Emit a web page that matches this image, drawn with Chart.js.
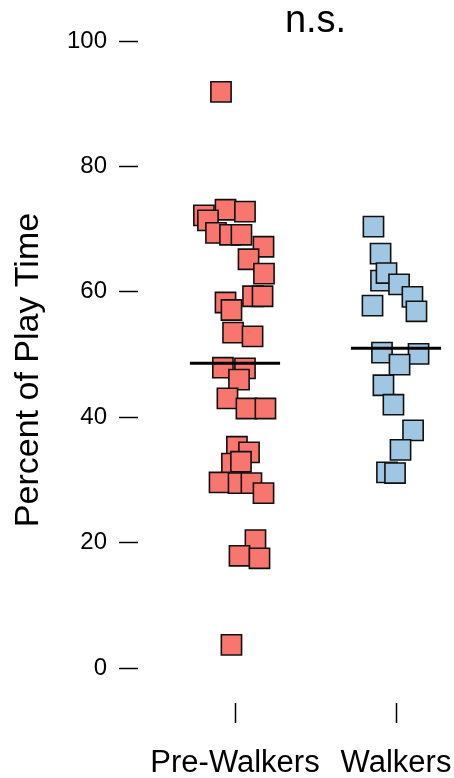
<!DOCTYPE html>
<html>
<head>
<meta charset="utf-8">
<script src="https://cdn.jsdelivr.net/npm/chart.js@4"></script>
<style>
  html, body { margin: 0; padding: 0; background: #fff; overflow: hidden; }
  #wrap { width: 454px; height: 778px; position: relative; }
  canvas { display: block; }
</style>
</head>
<body>
<div id="wrap"><canvas id="chart"></canvas></div>
<script>
// categories and their positions on the x axis
var categories = ['Pre-Walkers', 'Walkers'];
var categoryPos = [1, 2];

// Pre-Walkers: percent of play time and horizontal jitter
var preValues = [91.9, 72.2, 73.1, 72.8, 71.4, 69.4, 69.1, 69.1, 67.2, 65.2,
                 62.9, 59.3, 59.3, 58.3, 57.1, 53.5, 52.9, 47.9, 47.8, 46.0,
                 43.0, 41.4, 41.4, 35.3, 34.4, 32.6, 32.9, 29.6, 29.5, 29.5,
                 27.9, 20.4, 17.9, 17.5, 3.7];
var preJitter = [-0.087, -0.193, -0.059, 0.062, -0.168, -0.118, -0.031, 0.040, 0.177, 0.084,
                 0.180, 0.112, 0.171, -0.059, -0.022, -0.012, 0.109, -0.075, 0.062, 0.025,
                 -0.047, 0.071, 0.189, 0.012, 0.087, -0.019, 0.037, -0.096, 0.022, 0.102,
                 0.177, 0.127, 0.028, 0.152, -0.022];

// Walkers
var walkValues = [70.4, 66.1, 61.8, 63.0, 61.2, 59.2, 57.8, 56.9, 50.3, 50.1,
                  48.4, 45.1, 42.0, 37.9, 34.8, 31.2, 31.1];
var walkJitter = [-0.140, -0.096, -0.093, -0.059, 0.019, 0.102, -0.146, 0.127, -0.087, 0.140,
                  0.022, -0.078, -0.016, 0.106, 0.028, -0.056, -0.006];

// group means (horizontal bars)
var means = [48.6, 51.0];
var meanHalfWidth = 0.28;

var yTicks = [0, 20, 40, 60, 80, 100];
var yMin = -5.58, yMax = 104;
var xMin = 0.3975, xMax = 2.3602;
var annotation = 'n.s.';
var yTitle = 'Percent of Play Time';

var FONT = '"Liberation Sans", Arial, Helvetica, sans-serif';

function toPoints(center, jitter, values) {
    return values.map(function (v, i) {
        return { x: center + jitter[i], y: v };
    });
}

function meanLine(center, m) {
    return [{ x: center - meanHalfWidth, y: m }, { x: center + meanHalfWidth, y: m }];
}

// "n.s." above the groups and the rotated y title
var textPlugin = {
    id: 'extraText',
    afterDraw: function (chart) {
        var ctx = chart.ctx;
        var xs = chart.scales.x;
        ctx.save();
        ctx.fillStyle = '#000';
        ctx.font = '38px ' + FONT;
        ctx.textAlign = 'center';
        ctx.textBaseline = 'alphabetic';
        ctx.fillText(annotation, xs.getPixelForValue((categoryPos[0] + categoryPos[1]) / 2), 32);

        ctx.translate(29, 370);
        ctx.rotate(-Math.PI / 2);
        ctx.font = '34px ' + FONT;
        ctx.textBaseline = 'middle';
        ctx.fillText(yTitle, 0, 0);
        ctx.restore();
    }
};

var ctx = document.getElementById('chart').getContext('2d');
var chart = new Chart(ctx, {
    type: 'scatter',
    data: {
        datasets: [
            {
                type: 'line',
                data: meanLine(categoryPos[0], means[0]),
                borderColor: '#000',
                borderWidth: 3,
                pointRadius: 0,
                order: 0
            },
            {
                type: 'line',
                data: meanLine(categoryPos[1], means[1]),
                borderColor: '#000',
                borderWidth: 3,
                pointRadius: 0,
                order: 0
            },
            {
                label: categories[0],
                data: toPoints(categoryPos[0], preJitter, preValues),
                pointStyle: 'rect',
                pointRadius: 14.3,
                backgroundColor: '#F8766D',
                borderColor: '#111',
                borderWidth: 1.6,
                order: 1
            },
            {
                label: categories[1],
                data: toPoints(categoryPos[1], walkJitter, walkValues),
                pointStyle: 'rect',
                pointRadius: 14.3,
                backgroundColor: '#9FC6E3',
                borderColor: '#111',
                borderWidth: 1.6,
                order: 1
            }
        ]
    },
    options: {
        responsive: true,
        maintainAspectRatio: false,
        animation: false,
        events: [],
        layout: { autoPadding: false, padding: { top: 16, left: 0, right: 0, bottom: 0 } },
        plugins: {
            legend: { display: false },
            tooltip: { enabled: false }
        },
        scales: {
            x: {
                type: 'linear',
                min: xMin,
                max: xMax,
                border: { display: false },
                grid: {
                    drawOnChartArea: false,
                    drawTicks: true,
                    tickLength: 20,
                    tickWidth: 1.5,
                    tickColor: '#000'
                },
                ticks: {
                    color: '#000',
                    font: { family: FONT, size: 31 },
                    padding: 22,
                    maxRotation: 0,
                    callback: function (value) {
                        var i = categoryPos.indexOf(value);
                        return i >= 0 ? categories[i] : '';
                    }
                },
                afterBuildTicks: function (scale) {
                    scale.ticks = categoryPos.map(function (v) { return { value: v }; });
                },
                afterFit: function (scale) {
                    scale.height = 75;
                    scale.paddingLeft = 0;
                    scale.paddingRight = 0;
                }
            },
            y: {
                min: yMin,
                max: yMax,
                border: { display: false },
                grid: {
                    drawOnChartArea: false,
                    drawTicks: true,
                    tickLength: 19,
                    tickWidth: 1.5,
                    tickColor: '#000'
                },
                ticks: {
                    color: '#000',
                    font: { family: FONT, size: 24 },
                    padding: 12
                },
                afterBuildTicks: function (scale) {
                    scale.ticks = yTicks.map(function (v) { return { value: v }; });
                },
                afterFit: function (scale) {
                    scale.width = 138;
                    scale.paddingTop = 0;
                    scale.paddingBottom = 0;
                }
            }
        }
    },
    plugins: [textPlugin]
});
</script>
</body>
</html>
